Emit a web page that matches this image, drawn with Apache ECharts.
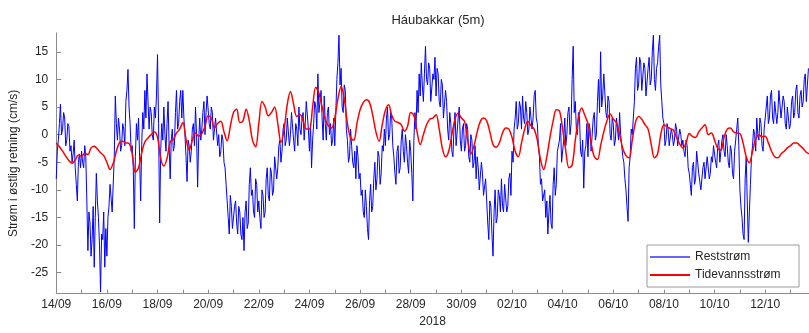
<!DOCTYPE html>
<html>
<head>
<meta charset="utf-8">
<script src="https://cdn.jsdelivr.net/npm/echarts@6/dist/echarts.min.js"></script>
<style>html,body{margin:0;padding:0;background:#fff;}#c{width:809px;height:333px;}</style>
</head>
<body>
<div id="c"></div>
<script>
// Tick labels (every 2 days starting 14/09/2018)
var dateLabels = ['14/09','16/09','18/09','20/09','22/09','24/09','26/09','28/09','30/09','02/10','04/10','06/10','08/10','10/10','12/10'];
var yTicks = [-25,-20,-15,-10,-5,0,5,10,15];
// Reststrøm, hourly from 14/09 00:00 (cm/s), one row per day
var reststrom = [
 -8,-3,-1,2,5.5,0,1,4,3,-2,-1,2,1.5,-3,-2,-5,-3.5,-1,-6,-9,-12,-5,-3.5,-6,
 -3,-5,-6,-2,-4,-12,-21,-14,-16,-22,-19,-13,-24,-15,-7,-12,-15,-20,-28.5,-18,-19,-14,-24,-17,
 -22,-15,-13,-9,-9,-14,-14,-4,7,2,-1,3,1,-3,-2,2,1,-2,6,8,11.8,5,2,-3,
 -2,-6,-17,-4,2,-1,3,-4,-12,-2,4,1,8,3,11,6,1,5,4,0,-1,5,3,7,
 14.5,2,-16,-3,2,-1,5,0,-3,2,6,-2,-8,-1,1,-3,-2,4,8,1,2,6,8,3,
 8,3,0,-4,-8.5,-1,-2,-5,-3,1,2,-2,5,0,-9.5,-1,3,-1,1,4,6,0,4,7,
 7,2,1,5,4,-1,-1,3,3,-2,0,-4,-3,0,-1,-5,-6,-9,-12,-15,-18,-11,-13,-17,
 -17,-13,-12,-16,-18,-13,-14,-18,-19,-15,-21,-14,-12,-17,-16,-9,-6,-11,-10,-14,-15,-8,-9,-14,
 -12,-15,-17,-10,-11,-15,-14,-8,-6,-11,-12,-6,-7,-11,-10,-4,-4,-8,-6,-2,-1,-5,-3,1,
 2,-2,-1,3,3,-2,0,4,4,-1,-3,2,1,-2,5,1,0,3,4,-1,2,6,6,1,
 -3,2,-6,-1,2,6,5,1,11,4,6,8,3,-1,7,2,-1,4,5,0,2,-2,-1,3,
 -2,4,10,13,18,9,12,5,4,9,8,1,-1,-5,-4,1,-2,-5,-6,-3,-8,-2,-4,-8,
 -7,-11,-10,-14,-15,-10,-13,-17,-19,-12,-9,-14,-13,-8,-5,-10,-8,-3,-4,-9,-7,-2,-3,1,
 -2,3,5,-1,0,4,3,-2,-4,-7,-9,-3,-2,-7,-6,-1,1,-3,-5,0,-2,-5,-7,-1,
 -3,-7,-12,-1,4,1,8,4,11,7,13,9,6,11,16,10,9,13,12,6,6,11,10,14,
 7,12,11,6,5,10,9,3,3,8,6,1,-1,4,2,-3,-4,1,4,-2,-2,3,5,-1,
 -3,1,2,-3,-2,2,1,-4,-5,0,-1,-6,-5,-2,-8,-4,-6,-10,-10,-5,-7,-11,-11,-8,
 -12,-16,-19,-12,-13,-18,-22,-14,-10,-16,-15,-10,-11,-14,-8,-13,-14,-9,-9,-14,-13,-8,-7,-11,
 -3,-5,1,3,6,1,2,6,5,1,7,3,2,6,4,0,1,5,5,1,3,7,8,3,
 2,-2,-4,-9,-8,-12,-12,-10,-15,-12,-18,-14,-11,-16,-17,-9,-6,-11,-9,-3,-3,-1,2,-5,
 -5,-1,3,-2,0,4,5,0,2,10,16,4,6,1,0,4,3,-3,-4,-1,-9.7,-3,-2,2,
 -4,2,1,-3,-3,3,4,-1,0,6,10,4,15,5,7,11,11,4,3,7,6,0,-1,3,
 2,-2,-1,3,1,-1,4,0,-2,-4,-5,-8,-10,-13,-15.7,-6,-4,1,0,3,6,12,14,8,
 9,14,13,8,8,13,12,7,7,12,14,9,10,15,18,10,8,12,13,16,18,9,6,3,
 2,-2,-1,2,1,-2,-2,1,0,-2,-1,2,1,-2,-2,1,0,-2,-1,-3,-4,-1,-2,-6,
 -7,-9,-11,-6,-5,-9,-8,-3,-3,-7,-7,-10,-10,-6,-5,-8,-8,-4,-4,-8,-7,-4,-5,-2,
 -2,-5,-6,-2,-1,-5,-5,-1,0,-3,-4,0,-2,-5,-6,-2,-3,-7,-8,-3,-1,1,3,-2,
 -10,-13,-15,-18,-19,-8,-4,-12,-19.5,-14,-9,-4,-2,1,0,-3,3,0,-1,3,2,-2,-3,1,
 1,5,7,2,3,7,8,3,2,6,6,2,4,8,8,3,3,7,6,2,1,5,5,1,
 2,6,7,3,4,8,9,4,3,7,8,5,6,10,11,6,9,12
];
// Tidevannsstrøm, 3-hour steps from 14/09 00:00 (cm/s), one row per day
var tidevann = [
 -1.5,-2.2,-3,-3.9,-4.7,-5.2,-4.6,-3.7,
 -3.9,-3.4,-3.6,-2.4,-2.1,-2.6,-3.3,-3.8,
 -5,-6.3,-5.2,-3,-1.4,-1.2,-1.5,-1.6,
 -3.5,-6.8,-6,-3.3,-1.3,-0.6,0,0.5,
 -0.5,-4.3,-5.7,-4.3,-1.3,-0.9,0.3,1,
 2.2,-0.8,-2.8,-1,0.3,-0.3,0.2,1.5,
 3.4,3,1.2,2,2.4,0.5,-1.1,1.5,
 4,4.6,2.2,2.5,4.6,2.5,-1,-2.2,
 2,6,5,3.4,4,5,2,-1.4,
 1,5.5,7.8,5.5,3.3,3.6,2.5,1,
 1,5,8.6,7.5,5,2.8,1.6,1.2,
 3,6.5,8.7,6.5,2,-0.6,-1,2,
 4.5,5.8,6.3,5.8,3.5,0.5,-1.2,1.8,
 4.4,5.4,3.5,2.4,2.2,1.8,0.6,1.5,
 4,3.5,0.5,-1.8,0,1.8,2.8,3,
 3.6,1,-2.5,-4,-3,0,2.8,3.9,
 3,2.4,-1,-3.5,-2,0.5,2.4,3,
 2.5,0.5,-1.8,-2.3,-1.5,0.3,1.2,1,
 -0.5,-3,-4,-1.5,1,2.4,1.6,1,
 -1,-4.5,-6.3,-4,-0.5,2.5,4.5,4.3,
 1,-3,-6,-5.5,-1,3,4.8,3.5,
 2,-1.5,-4,-4.5,-2,0.5,2.5,3.8,
 2.8,2.2,0,-2.5,-3.8,-4.2,-1,2.2,
 3.3,2.8,1.8,1,-1.8,-4.2,-3.5,0,
 1.8,1.4,1.1,0.8,-0.5,-1.7,-2.4,-1.5,
 0.2,-0.3,-0.5,0.5,1.2,1.8,0,0.3,
 -1,-2.5,-2.8,-0.5,1,1.2,0.5,0.3,
 0.2,-1.5,-4,-5.1,-3,-0.8,0,-0.4,
 -0.3,-1.5,-3,-4,-4.2,-3.5,-3,-2.4,
 -2,-1.5,-1.5,-2,-2.5,-3.2,-3.5
];

var blueData = reststrom.map(function(v,i){return [i/24, v];});
var redData = tidevann.map(function(v,i){return [i/8, v];});
var dayTicks = []; for (var d=0; d<=29; d++) dayTicks.push(d);
var labelDays = dateLabels.map(function(_,i){return i*2;});

var chart = echarts.init(document.getElementById('c'), null, {renderer:'canvas'});
var txt = '#262626';
chart.setOption({
  animation:false,
  backgroundColor:'#fff',
  title:{text:'Háubakkar (5m)', left:433, top:9, textAlign:'center',
    textStyle:{fontFamily:'Liberation Sans', fontSize:13, fontWeight:'normal', color:txt}},
  grid:{left:55.5, right:0, top:33, bottom:39.3},
  legend:{
    orient:'vertical', left:647, top:245,
    data:[{name:'Reststrøm', icon:'rect', itemStyle:{color:'#6666ff'}},
          {name:'Tidevannsstrøm', icon:'rect', itemStyle:{color:'#ff0000'}}],
    itemWidth:40, itemHeight:2, itemGap:4,
    padding:[5,2,5,3],
    borderColor:'#9a9a9a', borderWidth:1, backgroundColor:'#fff',
    textStyle:{fontFamily:'Liberation Sans', fontSize:12, color:txt, width:102, lineHeight:14}
  },
  xAxis:{
    type:'value', min:0, max:29.73,
    name:'2018', nameLocation:'middle', nameGap:21,
    nameTextStyle:{fontFamily:'Liberation Sans', fontSize:12, color:txt},
    axisLine:{show:true, onZero:false, lineStyle:{color:'#8c8c8c', width:1}},
    axisTick:{show:true, inside:true, length:4, customValues:dayTicks, lineStyle:{color:'#8c8c8c'}},
    axisLabel:{customValues:labelDays, margin:5, fontFamily:'Liberation Sans', fontSize:12, color:txt,
      formatter:function(v){var i=Math.round(v/2); return dateLabels[i]||'';}},
    splitLine:{show:false}
  },
  yAxis:{
    type:'value', min:-28.8, max:18.4,
    name:'Strøm i østlig retning (cm/s)', nameLocation:'middle', nameGap:33, nameRotate:90,
    nameTextStyle:{fontFamily:'Liberation Sans', fontSize:12, color:txt},
    axisLine:{show:true, onZero:false, lineStyle:{color:'#8c8c8c', width:1}},
    axisTick:{show:true, inside:true, length:5, customValues:yTicks, lineStyle:{color:'#8c8c8c'}},
    axisLabel:{customValues:yTicks, margin:8, fontFamily:'Liberation Sans', fontSize:12, color:txt},
    splitLine:{show:false}
  },
  series:[
    {name:'Reststrøm', type:'line', data:blueData, showSymbol:false, symbol:'none',
      lineStyle:{color:'#0000ff', width:1}, itemStyle:{color:'#0000ff'}, clip:true, z:2},
    {name:'Tidevannsstrøm', type:'line', data:redData, showSymbol:false, symbol:'none', smooth:0.35,
      lineStyle:{color:'#ff0000', width:1.5}, itemStyle:{color:'#ff0000'}, clip:true, z:3}
  ]
});
</script>
</body>
</html>
